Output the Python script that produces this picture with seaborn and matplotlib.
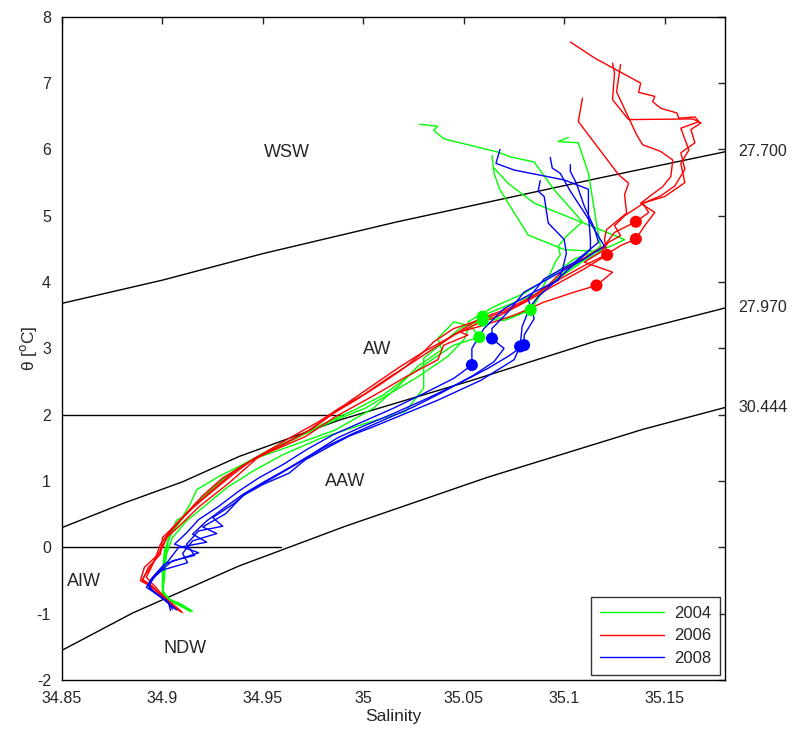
import matplotlib
matplotlib.use('Agg')
import matplotlib.pyplot as plt
import seaborn as sns
import pandas as pd

# isopycnals (salinity, theta)
iso_labels = ["27.700", "27.970", "30.444"]
iso_sal = [
    [34.85, 34.90, 34.95, 35.017, 35.116, 35.18],
    [34.85, 34.88, 34.91, 34.938, 34.988, 35.053, 35.116, 35.18],
    [34.85, 34.885, 34.938, 34.991, 35.062, 35.139, 35.18],
]
iso_theta = [
    [3.68, 4.03, 4.43, 4.91, 5.56, 5.965],
    [0.30, 0.66, 0.99, 1.37, 1.92, 2.51, 3.115, 3.61],
    [-1.55, -0.99, -0.28, 0.32, 1.06, 1.78, 2.11],
]
# horizontal boundaries (theta, end salinity)
hline_theta = [2.0, 0.0]
hline_end = [34.99, 34.959]

# water mass names
mass_names = ["WSW", "AW", "AAW", "AIW", "NDW"]
mass_sal = [34.962, 35.007, 34.991, 34.861, 34.911]
mass_theta = [5.96, 2.98, 0.99, -0.52, -1.52]

years = ["2004", "2006", "2008"]

sal_2004 = [
    [35.028, 35.037, 35.035, 35.040, 35.067, 35.073, 35.085, 35.095, 35.109, 35.101, 35.097, 35.098, 35.096,
     35.093, 35.083, 35.070, 35.060, 35.052, 35.045, 35.037, 35.039, 35.027, 35.017, 35.005, 34.986, 34.963,
     34.946, 34.928, 34.917, 34.914, 34.910, 34.907, 34.903, 34.902, 34.901, 34.900, 34.900, 34.907, 34.914],
    [35.064, 35.065, 35.068, 35.082, 35.100, 35.118, 35.110, 35.087, 35.062, 35.0594, 35.052, 35.050, 35.042,
     35.027, 35.012, 35.001, 34.986, 34.970, 34.955, 34.940, 34.928, 34.918, 34.910, 34.904, 34.901, 34.900,
     34.900, 34.901, 34.909, 34.915],
    [35.065, 35.072, 35.085, 35.108, 35.118, 35.130, 35.123, 35.105, 35.093, 35.080, 35.065, 35.052, 35.0577,
     35.045, 35.035, 35.021, 35.010, 34.996, 34.979, 34.965, 34.950, 34.937, 34.926, 34.916, 34.909, 34.903,
     34.901, 34.901, 34.900, 34.906, 34.914],
    [35.102, 35.097, 35.107, 35.112, 35.116, 35.118, 35.112, 35.100, 35.090, 35.0833, 35.070, 35.059, 35.048,
     35.040, 35.030, 35.030, 35.021, 35.001, 34.979, 34.960, 34.945, 34.932, 34.922, 34.912, 34.905, 34.902,
     34.901, 34.900, 34.904, 34.912],
]
theta_2004 = [
    [6.38, 6.35, 6.29, 6.16, 5.96, 5.89, 5.81, 5.39, 4.91, 4.69, 4.54, 4.41, 4.33,
     4.13, 3.58, 3.45, 3.48, 3.35, 3.40, 3.15, 2.98, 2.73, 2.42, 2.10, 1.77, 1.52,
     1.34, 1.07, 0.87, 0.67, 0.46, 0.41, 0.11, -0.04, -0.29, -0.54, -0.74, -0.83, -0.97],
    [5.91, 5.64, 5.39, 4.71, 4.49, 4.46, 4.33, 3.84, 3.53, 3.48, 3.28, 3.13, 2.88,
     2.57, 2.30, 2.10, 1.92, 1.70, 1.50, 1.25, 0.98, 0.70, 0.45, 0.20, -0.05, -0.35,
     -0.60, -0.75, -0.85, -0.96],
    [5.72, 5.49, 5.19, 4.91, 4.79, 4.64, 4.54, 4.35, 4.08, 3.83, 3.63, 3.40, 3.17,
     3.05, 2.85, 2.55, 2.30, 2.08, 1.85, 1.62, 1.42, 1.18, 0.93, 0.65, 0.40, 0.15,
     -0.10, -0.45, -0.70, -0.84, -0.95],
    [6.18, 6.12, 6.10, 5.64, 4.89, 4.54, 4.40, 4.15, 3.90, 3.58, 3.42, 3.45, 3.30,
     3.10, 2.85, 2.40, 2.05, 1.87, 1.65, 1.40, 1.15, 0.90, 0.65, 0.40, 0.15, -0.10,
     -0.40, -0.65, -0.80, -0.93],
]

sal_2006 = [
    [35.103, 35.115, 35.138, 35.137, 35.145, 35.144, 35.148, 35.156, 35.157, 35.165, 35.167, 35.158, 35.162,
     35.158, 35.160, 35.150, 35.139, 35.142, 35.1356, 35.125, 35.120, 35.112, 35.100, 35.092, 35.080, 35.070,
     35.060, 35.045, 35.035, 35.030, 35.020, 35.008, 34.995, 34.985, 34.975, 34.960, 34.946, 34.935, 34.925,
     34.915, 34.907, 34.900, 34.899, 34.893, 34.890, 34.893, 34.899, 34.905, 34.909],
    [35.124, 35.125, 35.124, 35.132, 35.164, 35.168, 35.163, 35.165, 35.158, 35.160, 35.155, 35.148, 35.140,
     35.130, 35.125, 35.128, 35.122, 35.118, 35.110, 35.124, 35.116, 35.105, 35.090, 35.075, 35.060, 35.048,
     35.052, 35.040, 35.037, 35.021, 35.004, 34.986, 34.971, 34.948, 34.933, 34.918, 34.908, 34.902, 34.898,
     34.891, 34.889, 34.895, 34.901, 34.908],
    [35.128, 35.126, 35.136, 35.139, 35.148, 35.154, 35.153, 35.149, 35.138, 35.145, 35.140, 35.1356, 35.128,
     35.120, 35.110, 35.098, 35.085, 35.072, 35.058, 35.050, 35.042, 35.030, 35.017, 35.005, 34.993, 34.984,
     34.972, 34.958, 34.944, 34.930, 34.920, 34.912, 34.905, 34.899, 34.896, 34.892, 34.896, 34.902, 34.909],
    [35.109, 35.107, 35.120, 35.127, 35.132, 35.130, 35.131, 35.121, 35.120, 35.1213, 35.110, 35.095, 35.082,
     35.068, 35.055, 35.045, 35.035, 35.025, 35.012, 35.000, 34.988, 34.978, 34.965, 34.952, 34.938, 34.928,
     34.918, 34.910, 34.903, 34.900, 34.895, 34.890, 34.894, 34.900, 34.906, 34.910],
]
theta_2006 = [
    [7.62, 7.38, 7.00, 6.86, 6.80, 6.72, 6.62, 6.55, 6.47, 6.49, 6.42, 6.32, 5.99,
     5.79, 5.50, 5.29, 5.19, 5.05, 4.91, 4.75, 4.55, 4.40, 4.20, 3.95, 3.70, 3.55,
     3.45, 3.30, 3.10, 2.95, 2.70, 2.45, 2.20, 2.02, 1.80, 1.55, 1.35, 1.10, 0.85,
     0.60, 0.35, 0.15, -0.10, -0.30, -0.50, -0.55, -0.72, -0.85, -0.97],
    [7.30, 7.15, 6.75, 6.45, 6.46, 6.40, 6.30, 6.10, 5.95, 5.70, 5.45, 5.30, 5.20,
     5.00, 4.85, 4.70, 4.60, 4.45, 4.30, 4.15, 3.95, 3.85, 3.70, 3.50, 3.35, 3.25,
     3.20, 3.05, 2.83, 2.57, 2.27, 1.97, 1.67, 1.37, 0.97, 0.61, 0.31, 0.15, -0.10,
     -0.30, -0.50, -0.60, -0.76, -0.95],
    [7.28, 6.87, 6.22, 6.07, 5.97, 5.84, 5.59, 5.44, 5.19, 5.05, 4.85, 4.65, 4.55,
     4.40, 4.25, 4.05, 3.80, 3.60, 3.45, 3.30, 3.15, 2.95, 2.70, 2.45, 2.20, 2.00,
     1.75, 1.52, 1.30, 1.05, 0.78, 0.52, 0.30, 0.05, -0.20, -0.45, -0.58, -0.78, -0.96],
    [6.77, 6.42, 5.90, 5.62, 5.49, 5.32, 5.04, 4.79, 4.64, 4.41, 4.20, 3.95, 3.72,
     3.50, 3.35, 3.20, 3.00, 2.80, 2.55, 2.30, 2.10, 1.90, 1.68, 1.45, 1.20, 0.95,
     0.68, 0.45, 0.20, 0.00, -0.25, -0.48, -0.56, -0.74, -0.88, -0.98],
]

sal_2008 = [
    [35.068, 35.066, 35.075, 35.100, 35.112, 35.112, 35.113, 35.113, 35.098, 35.087, 35.083, 35.079, 35.078,
     35.075, 35.067, 35.0585, 35.037, 35.021, 35.005, 34.993, 34.983, 34.971, 34.963, 34.950, 34.940, 34.9315,
     34.920, 34.927, 34.915, 34.910, 34.9125, 34.900, 34.894, 34.8935, 34.900, 34.907],
    [35.093, 35.094, 35.098, 35.103, 35.111, 35.117, 35.120, 35.110, 35.095, 35.080, 35.072, 35.064, 35.064,
     35.070, 35.065, 35.055, 35.040, 35.025, 35.010, 34.995, 34.980, 34.968, 34.955, 34.943, 34.935, 34.925,
     34.930, 34.918, 34.912, 34.916, 34.905, 34.898, 34.893, 34.895, 34.901, 34.906],
    [35.103, 35.103, 35.106, 35.110, 35.115, 35.117, 35.105, 35.090, 35.082, 35.085, 35.080, 35.080, 35.072,
     35.062, 35.048, 35.032, 35.015, 35.000, 34.987, 34.975, 34.963, 34.950, 34.940, 34.930, 34.922, 34.915,
     34.922, 34.908, 34.903, 34.897, 34.893, 34.896, 34.902, 34.905],
    [35.088, 35.087, 35.090, 35.092, 35.100, 35.101, 35.099, 35.097, 35.085, 35.070, 35.060, 35.054, 35.054,
     35.045, 35.030, 35.015, 35.000, 34.985, 34.972, 34.960, 34.948, 34.938, 34.928, 34.918, 34.912, 34.906,
     34.918, 34.901, 34.895, 34.892, 34.897, 34.903, 34.904],
]
theta_2008 = [
    [6.00, 5.79, 5.69, 5.54, 5.40, 5.03, 4.64, 4.49, 4.08, 3.78, 3.63, 3.33, 3.03,
     2.83, 2.68, 2.52, 2.22, 2.02, 1.82, 1.68, 1.52, 1.32, 1.12, 0.95, 0.78, 0.51,
     0.31, 0.21, 0.10, -0.09, -0.23, -0.34, -0.49, -0.62, -0.77, -0.94],
    [5.88, 5.72, 5.64, 5.37, 5.00, 4.69, 4.54, 4.35, 4.10, 3.85, 3.55, 3.30, 3.15,
     3.00, 2.80, 2.60, 2.35, 2.12, 1.92, 1.72, 1.50, 1.28, 1.05, 0.85, 0.65, 0.45,
     0.32, 0.25, 0.05, -0.12, -0.20, -0.38, -0.55, -0.65, -0.78, -0.92],
    [5.77, 5.67, 5.49, 5.14, 4.81, 4.60, 4.30, 4.05, 3.75, 3.45, 3.20, 3.05, 2.88,
     2.70, 2.48, 2.25, 2.02, 1.83, 1.65, 1.42, 1.20, 0.98, 0.80, 0.58, 0.40, 0.20,
     0.08, 0.00, -0.20, -0.40, -0.58, -0.68, -0.80, -0.93],
    [5.53, 5.37, 5.29, 4.89, 4.64, 4.43, 4.18, 4.03, 3.85, 3.60, 3.30, 3.00, 2.75,
     2.55, 2.32, 2.10, 1.90, 1.70, 1.48, 1.25, 1.05, 0.85, 0.62, 0.42, 0.22, 0.05,
     -0.08, -0.25, -0.45, -0.60, -0.70, -0.83, -0.95],
]

# marked points on each profile
dot_sal_2004 = [35.0594, 35.0594, 35.0577, 35.0833]
dot_theta_2004 = [3.48, 3.42, 3.17, 3.58]
dot_sal_2006 = [35.1356, 35.1356, 35.1213, 35.116]
dot_theta_2006 = [4.91, 4.65, 4.41, 3.95]
dot_sal_2008 = [35.064, 35.054, 35.078, 35.080]
dot_theta_2008 = [3.15, 2.75, 3.03, 3.05]

colors = {"2004": "#00ff00", "2006": "#ff0000", "2008": "#0000ff"}

rows = []
for yr, sals, thetas in zip(years, [sal_2004, sal_2006, sal_2008], [theta_2004, theta_2006, theta_2008]):
    for i, (s, t) in enumerate(zip(sals, thetas)):
        for j, (sv, tv) in enumerate(zip(s, t)):
            rows.append({"year": yr, "profile": f"{yr}_{i}", "order": j, "sal": sv, "theta": tv})
df = pd.DataFrame(rows)

dots = pd.DataFrame({
    "year": ["2004"] * 4 + ["2006"] * 4 + ["2008"] * 4,
    "sal": dot_sal_2004 + dot_sal_2006 + dot_sal_2008,
    "theta": dot_theta_2004 + dot_theta_2006 + dot_theta_2008,
})

sns.set_style("white")
plt.rcParams['font.family'] = ['Liberation Sans', 'DejaVu Sans']
plt.rcParams['axes.unicode_minus'] = False

fig = plt.figure(figsize=(7.95, 7.29), dpi=100)
ax = fig.add_axes([0.078, 0.067, 0.834, 0.910])

for s, t in zip(iso_sal, iso_theta):
    ax.plot(s, t, color="black", lw=1.0, zorder=1)
for t, e in zip(hline_theta, hline_end):
    ax.plot([34.85, e], [t, t], color="black", lw=1.0, zorder=1)

sns.lineplot(data=df, x="sal", y="theta", hue="year", units="profile", estimator=None,
             sort=False, palette=colors, lw=1.0, ax=ax, zorder=2)
sns.scatterplot(data=dots, x="sal", y="theta", hue="year", palette=colors, s=75,
                edgecolor="none", legend=False, ax=ax, zorder=3)

for lab, s, t in zip(iso_labels, iso_sal, iso_theta):
    ax.text(35.1865, t[-1], lab, fontsize=11.5, va="center", ha="left")
for name, s, t in zip(mass_names, mass_sal, mass_theta):
    ax.text(s, t, name, fontsize=13, ha="center", va="center")

ax.set_xlim(34.85, 35.18)
ax.set_ylim(-2, 8)
xt = [34.85, 34.9, 34.95, 35.0, 35.05, 35.1, 35.15]
ax.set_xticks(xt)
ax.set_xticklabels(["34.85", "34.9", "34.95", "35", "35.05", "35.1", "35.15"])
ax.set_yticks(range(-2, 9))
ax.tick_params(direction="in", top=True, right=True, length=5, labelsize=11.5, width=1)
ax.tick_params(axis="x", pad=8)
ax.tick_params(axis="y", pad=8)
for sp in ax.spines.values():
    sp.set_color("black")
    sp.set_linewidth(1.0)
ax.set_xlabel("Salinity", fontsize=12.5, labelpad=2)
ax.set_ylabel("θ [$^{\\mathrm{o}}$C]", fontsize=12.5, labelpad=-2)

leg = ax.legend(loc="lower right", fontsize=12, frameon=True, fancybox=False,
                edgecolor="black", handlelength=3.8, borderaxespad=0.3, labelspacing=0.45,
                borderpad=0.55, handletextpad=0.6)
leg.get_frame().set_linewidth(1.0)
leg.set_title(None)

fig.savefig("out.png", dpi=100)
